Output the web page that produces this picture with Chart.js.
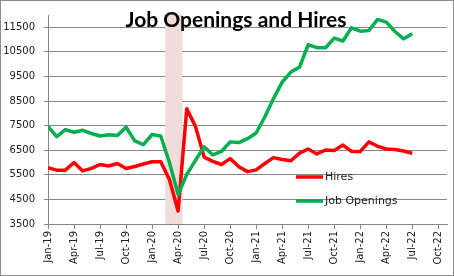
<!DOCTYPE html>
<html>
<head>
<meta charset="utf-8">
<script src="https://cdn.jsdelivr.net/npm/chart.js@4.4.1/dist/chart.umd.min.js"></script>
<style>
  html, body { margin: 0; padding: 0; background: #fff; }
  #wrap { width: 454px; height: 276px; position: relative; }
</style>
</head>
<body>
<div id="wrap"><canvas id="jobsChart" width="454" height="276"></canvas></div>
<script>
const months = [
  'Jan-19','Feb-19','Mar-19','Apr-19','May-19','Jun-19','Jul-19','Aug-19','Sep-19','Oct-19','Nov-19','Dec-19',
  'Jan-20','Feb-20','Mar-20','Apr-20','May-20','Jun-20','Jul-20','Aug-20','Sep-20','Oct-20','Nov-20','Dec-20',
  'Jan-21','Feb-21','Mar-21','Apr-21','May-21','Jun-21','Jul-21','Aug-21','Sep-21','Oct-21','Nov-21','Dec-21',
  'Jan-22','Feb-22','Mar-22','Apr-22','May-22','Jun-22','Jul-22','Aug-22','Sep-22','Oct-22','Nov-22'
];
const hires = [
  5790, 5690, 5690, 6000, 5660, 5760, 5920, 5860, 5960, 5760, 5840, 5940,
  6030, 6030, 5310, 4030, 8190, 7470, 6220, 6050, 5920, 6160, 5830, 5630,
  5700, 5960, 6200, 6120, 6070, 6380, 6550, 6350, 6510, 6490, 6710, 6450,
  6450, 6840, 6660, 6550, 6530, 6470, 6380
];
const openings = [
  7470, 7050, 7340, 7230, 7310, 7180, 7080, 7130, 7100, 7440, 6880, 6730,
  7140, 7080, 6000, 4700, 5520, 6090, 6640, 6310, 6450, 6840, 6810, 6970,
  7200, 7860, 8600, 9270, 9680, 9880, 10790, 10670, 10670, 11060, 10940, 11480,
  11340, 11370, 11820, 11710, 11330, 11030, 11240
];
const yTicks = [3500, 4500, 5500, 6500, 7500, 8500, 9500, 10500, 11500];
const recession = ['Mar-20', 'Apr-20'];
const chartTitle = 'Job Openings and Hires';

const tickFont = { family: 'DejaVu Sans', size: 10 };
const gridColor = '#868686';

// pink band behind the lines for the recession months
const shadePlugin = {
  id: 'shade',
  beforeDatasetsDraw(chart) {
    const x = chart.scales.x;
    const area = chart.chartArea;
    const x0 = x.getPixelForValue(months.indexOf(recession[0]) - 0.5);
    const x1 = x.getPixelForValue(months.indexOf(recession[1]) + 0.5);
    const ctx = chart.ctx;
    ctx.save();
    ctx.fillStyle = '#f2dcdb';
    ctx.fillRect(x0, area.top, x1 - x0, area.bottom - area.top);
    ctx.restore();
  }
};

// title inside the plot, legend in the lower right, outer frame
const decorPlugin = {
  id: 'decor',
  afterDraw(chart) {
    const ctx = chart.ctx;
    ctx.save();
    ctx.fillStyle = '#000';
    ctx.font = 'bold 21px Lato';
    ctx.textAlign = 'center';
    ctx.textBaseline = 'alphabetic';
    ctx.fillText(chartTitle, 236, 27);

    const items = chart.data.datasets.map(d => ({ label: d.label, color: d.borderColor }));
    items.sort((a, b) => (a.label === 'Hires' ? -1 : 1));
    items.forEach((it, i) => {
      const y = 177 + i * 24;
      ctx.strokeStyle = it.color;
      ctx.lineWidth = 3.5;
      ctx.beginPath();
      ctx.moveTo(296, y);
      ctx.lineTo(323, y);
      ctx.stroke();
      ctx.fillStyle = '#222';
      ctx.font = '11px "DejaVu Sans"';
      ctx.textAlign = 'left';
      ctx.textBaseline = 'middle';
      ctx.fillText(it.label, 325, y);
    });

    ctx.strokeStyle = '#8c8c8c';
    ctx.lineWidth = 1;
    ctx.strokeRect(0.5, 0.5, chart.width - 1, chart.height - 1);
    ctx.restore();
  }
};

new Chart(document.getElementById('jobsChart').getContext('2d'), {
  type: 'line',
  data: {
    labels: months,
    datasets: [
      {
        label: 'Job Openings',
        data: openings,
        borderColor: '#00b050',
        borderWidth: 3.5,
        pointRadius: 0,
        borderJoinStyle: 'round',
        tension: 0,
        order: 0
      },
      {
        label: 'Hires',
        data: hires,
        borderColor: '#ff0000',
        borderWidth: 3.5,
        pointRadius: 0,
        borderJoinStyle: 'round',
        tension: 0,
        order: 1
      }
    ]
  },
  options: {
    responsive: false,
    animation: false,
    devicePixelRatio: 1,
    layout: { padding: { top: 8, right: 7, left: 0, bottom: 0 } },
    plugins: {
      legend: { display: false },
      title: { display: false },
      tooltip: { enabled: false }
    },
    scales: {
      x: {
        type: 'category',
        min: 'Jan-19',
        max: 'Nov-22',
        offset: false,
        grid: { drawOnChartArea: false, drawTicks: true, tickLength: 5, color: gridColor },
        border: { color: gridColor },
        ticks: { autoSkip: false, maxRotation: 90, minRotation: 90, font: tickFont, color: '#222', padding: 2 },
        afterBuildTicks: s => { s.ticks = s.ticks.filter(t => t.value % 3 === 0); },
        afterFit: s => { s.height = 52; }
      },
      y: {
        min: 3500,
        max: 12000,
        grid: { color: gridColor, tickLength: 4 },
        border: { color: gridColor },
        ticks: { font: tickFont, color: '#222', padding: 9, callback: v => String(v) },
        afterBuildTicks: s => { s.ticks = yTicks.map(v => ({ value: v })); },
        afterFit: s => { s.width = 48; }
      }
    }
  },
  plugins: [shadePlugin, decorPlugin]
});
</script>
</body>
</html>
